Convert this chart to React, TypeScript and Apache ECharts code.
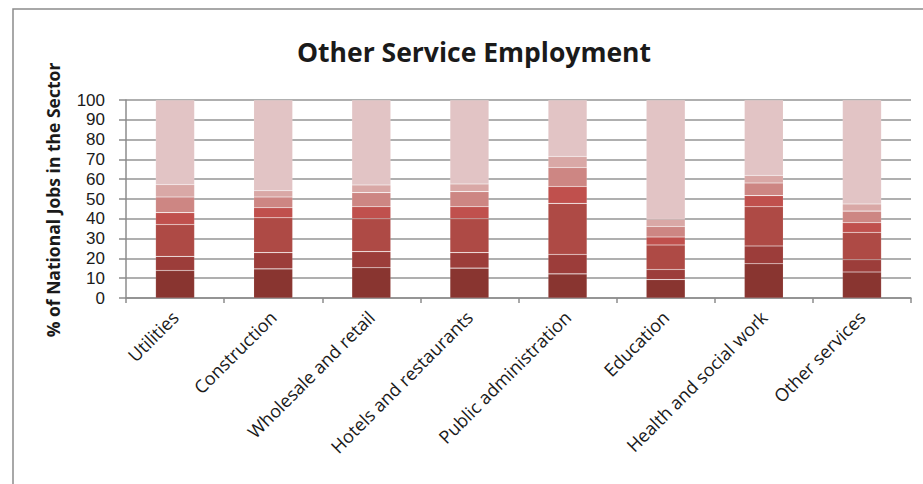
import React, { useEffect, useRef } from "react";
import * as echarts from "echarts";

const categories = [
  "Utilities",
  "Construction",
  "Wholesale and retail",
  "Hotels and restaurants",
  "Public administration",
  "Education",
  "Health and social work",
  "Other services",
];

const seriesNames = ["Group 1", "Group 2", "Group 3", "Group 4", "Group 5", "Group 6", "Group 7"];

const group1 = [13.9, 14.7, 15.3, 15.1, 12.2, 9.3, 17.3, 13.1];
const group2 = [7.1, 8.2, 8.1, 7.8, 9.8, 5.1, 9.0, 6.2];
const group3 = [16.1, 17.6, 16.6, 17.1, 25.8, 12.4, 19.8, 13.8];
const group4 = [6.0, 5.1, 6.1, 6.1, 8.5, 4.0, 5.6, 4.9];
const group5 = [7.9, 5.4, 7.1, 7.6, 9.6, 5.3, 6.4, 5.9];
const group6 = [6.3, 3.2, 3.9, 3.9, 5.6, 3.7, 3.8, 3.6];
const group7 = [42.7, 45.8, 42.9, 42.4, 28.5, 60.2, 38.1, 52.5];

const seriesData = [group1, group2, group3, group4, group5, group6, group7];
const colors = ["#893530", "#9c3d3a", "#ae4a45", "#c0504d", "#cd8683", "#d9a8a6", "#e2c4c5"];

const title = "Other Service Employment";
const yAxisName = "% of National Jobs in the Sector";

export default function App() {
  const ref = useRef<HTMLDivElement>(null);
  useEffect(() => {
    if (!ref.current) return;
    const chart = echarts.init(ref.current, null, { renderer: "svg" });
    chart.setOption({
      animation: false,
      backgroundColor: "#ffffff",
      textStyle: { fontFamily: "Open Sans" },
      grid: { left: 126, right: 12, top: 100, bottom: 186, containLabel: false },
      graphic: [
        {
          type: "rect",
          shape: { x: 13, y: 9, width: 1000, height: 600 },
          style: { fill: "none", stroke: "#8c8c8c", lineWidth: 1.5 },
          silent: true,
        },
        {
          type: "text",
          x: 474,
          y: 52,
          style: {
            text: title,
            font: "bold 26.5px 'Open Sans'",
            fill: "#1a1a1a",
            textAlign: "center",
            textVerticalAlign: "middle",
          },
        },
        {
          type: "text",
          x: 53,
          y: 200,
          rotation: Math.PI / 2,
          style: {
            text: yAxisName,
            font: "bold 17.5px 'Open Sans'",
            fill: "#1a1a1a",
            textAlign: "center",
            textVerticalAlign: "middle",
          },
        },
      ],
      xAxis: {
        type: "category",
        data: categories,
        axisLine: { lineStyle: { color: "#8c8c8c", width: 1.5 } },
        axisTick: { show: true, alignWithLabel: false, length: 5, lineStyle: { color: "#8c8c8c", width: 1.5 } },
        axisLabel: {
          rotate: 45,
          interval: 0,
          fontSize: 18,
          color: "#1a1a1a",
          fontFamily: "Open Sans",
          margin: 16,
        },
      },
      yAxis: {
        type: "value",
        min: 0,
        max: 100,
        interval: 10,
        axisLine: { show: true, lineStyle: { color: "#8c8c8c", width: 1.5 } },
        axisTick: { show: true, length: 7, lineStyle: { color: "#8c8c8c", width: 1.5 } },
        splitLine: { show: true, lineStyle: { color: "#959595", width: 1.5 } },
        axisLabel: { fontSize: 17, lineHeight: 17, color: "#1a1a1a", fontFamily: "Liberation Sans", margin: 21 },
      },
      series: seriesData.map((d, i) => ({
        name: seriesNames[i],
        type: "bar",
        stack: "total",
        data: d,
        barWidth: 39,
        itemStyle: { color: colors[i], borderColor: "rgba(255,255,255,0.18)", borderWidth: 0.6 },
      })),
    });
    return () => chart.dispose();
  }, []);
  return (
    <div
      ref={ref}
      style={{ position: "fixed", left: 0, top: 0, width: 923, height: 484, background: "#fff" }}
    />
  );
}
